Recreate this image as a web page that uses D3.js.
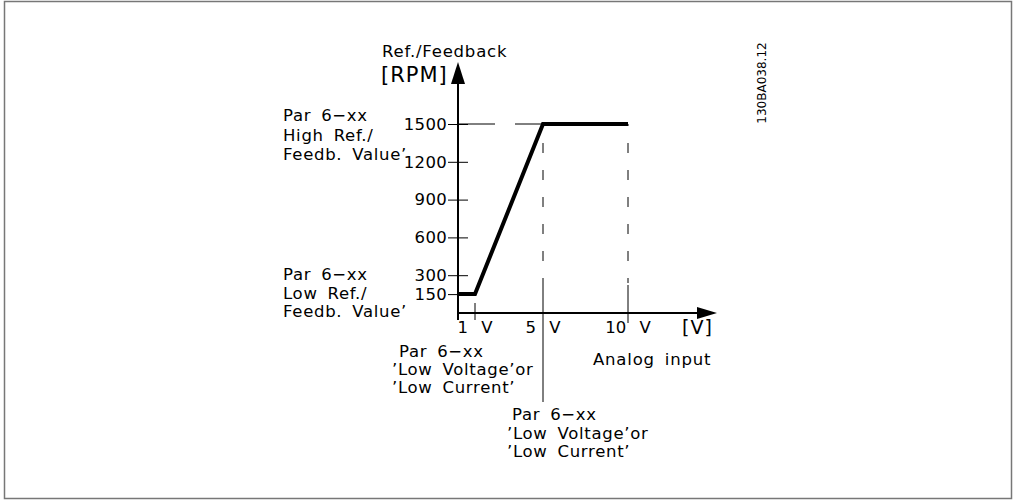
<!DOCTYPE html>
<html>
<head>
<meta charset="utf-8">
<script src="https://cdn.jsdelivr.net/npm/d3@7"></script>
<style>
  body { margin: 0; background: #fff; }
  text { font-family: "DejaVu Sans", sans-serif; fill: #000; }
</style>
</head>
<body>
<script>
// Data: analog input (V) vs reference/feedback (RPM)
const volts = [0, 1, 5, 10];
const rpm = [150, 150, 1500, 1500];
const yTicks = [150, 300, 600, 900, 1200, 1500];
const xTicks = [1, 5, 10];
const xTickLabels = ['1 V', '5 V', '10 V'];
const highLabel = ['Par 6\u2212xx', 'High Ref./', 'Feedb. Value\u2019'];
const lowLabel = ['Par 6\u2212xx', 'Low Ref./', 'Feedb. Value\u2019'];
const lowVLabel = ['Par 6\u2212xx', '\u2019Low Voltage\u2019or', '\u2019Low Current\u2019'];

const width = 1016, height = 501;

const svg = d3.select('body')
  .append('svg')
  .attr('width', width)
  .attr('height', height);

// outer frame
svg.append('rect')
  .attr('x', 4.5).attr('y', 1.5)
  .attr('width', 1007).attr('height', 497)
  .attr('fill', 'none')
  .attr('stroke', '#777')
  .attr('stroke-width', 1.5);

// Set Ranges
const x = d3.scaleLinear().domain([0, 10]).range([458, 628]);
const y = d3.scaleLinear().domain([0, 1500]).range([313, 124]);

// guide lines (dashed) from the 1500 point
svg.append('line')
  .attr('x1', x(0)).attr('x2', x(5))
  .attr('y1', y(1500)).attr('y2', y(1500))
  .attr('stroke', '#000').attr('stroke-width', 1)
  .attr('stroke-dasharray', '37,20');

[5, 10].forEach(function(v) {
  svg.append('line')
    .attr('x1', x(v)).attr('x2', x(v))
    .attr('y1', y(1500)).attr('y2', y(0) - 30)
    .attr('stroke', '#000').attr('stroke-width', 1)
    .attr('stroke-dasharray', '10,17')
    .attr('stroke-dashoffset', 8);
});
// solid parts of the guides near / below the axis
svg.append('line')
  .attr('x1', x(5)).attr('x2', x(5))
  .attr('y1', y(0) - 30).attr('y2', y(0) + 89)
  .attr('stroke', '#000').attr('stroke-width', 1);
svg.append('line')
  .attr('x1', x(10)).attr('x2', x(10))
  .attr('y1', y(0) - 28).attr('y2', y(0) + 10)
  .attr('stroke', '#000').attr('stroke-width', 1);
// tick at 1 V
svg.append('line')
  .attr('x1', x(1)).attr('x2', x(1))
  .attr('y1', y(0) - 10).attr('y2', y(0) + 7)
  .attr('stroke', '#000').attr('stroke-width', 1);

// Y axis ticks and labels
const yAxis = d3.axisLeft(y).tickValues(yTicks).tickFormat(d3.format('d'))
  .tickSize(10).tickPadding(1);
const gy = svg.append('g')
  .attr('transform', 'translate(' + x(0) + ',0)')
  .call(yAxis);
gy.select('.domain').remove();
gy.selectAll('.tick line').attr('x2', 10).attr('x1', -10).attr('stroke-width', 1);
gy.selectAll('.tick text')
  .attr('font-size', 16.5)
  .attr('font-family', '"DejaVu Sans", sans-serif')
  .attr('letter-spacing', 0.3);

// X tick labels
svg.selectAll('.xlab')
  .data(xTicks)
  .enter().append('text')
  .attr('class', 'xlab')
  .attr('x', function(d) { return x(d); })
  .attr('y', 333)
  .attr('text-anchor', 'middle')
  .attr('font-size', 16.5)
  .attr('word-spacing', 8)
  .text(function(d, i) { return xTickLabels[i]; });

// axes with arrows
svg.append('line')
  .attr('x1', x(0)).attr('x2', x(0))
  .attr('y1', y(0) + 7).attr('y2', 80)
  .attr('stroke', '#000').attr('stroke-width', 2);
svg.append('path')
  .attr('d', 'M' + x(0) + ',62 L' + (x(0) - 7) + ',84 L' + (x(0) + 7) + ',84 Z')
  .attr('fill', '#000');
svg.append('line')
  .attr('x1', x(0) - 1).attr('x2', 700)
  .attr('y1', y(0)).attr('y2', y(0))
  .attr('stroke', '#000').attr('stroke-width', 2);
svg.append('path')
  .attr('d', 'M717,' + y(0) + ' L697,' + (y(0) - 6) + ' L697,' + (y(0) + 6) + ' Z')
  .attr('fill', '#000');

// the data line
const valueline = d3.line()
  .x(function(d) { return x(d[0]); })
  .y(function(d) { return y(d[1]); });
svg.append('path')
  .attr('d', valueline(d3.zip(volts, rpm)))
  .attr('fill', 'none')
  .attr('stroke', '#000')
  .attr('stroke-width', 4)
  .attr('stroke-linejoin', 'miter');

// titles
svg.append('text').attr('x', 382).attr('y', 57)
  .attr('font-size', 16.5).attr('letter-spacing', 0.8)
  .text('Ref./Feedback');
svg.append('text').attr('x', 381).attr('y', 82)
  .attr('font-size', 21).attr('letter-spacing', 1)
  .text('[RPM]');
svg.append('text').attr('x', 682).attr('y', 334)
  .attr('font-size', 19).attr('letter-spacing', 1)
  .text('[V]');
svg.append('text').attr('x', 593).attr('y', 365)
  .attr('font-size', 16.5).attr('letter-spacing', 0.8).attr('word-spacing', 4)
  .text('Analog input');

// multi-line annotations
function block(lines, xs, y0, dy) {
  lines.forEach(function(t, i) {
    svg.append('text')
      .attr('x', xs[i]).attr('y', y0 + i * dy)
      .attr('font-size', 16.5)
      .attr('letter-spacing', 0.7)
      .attr('word-spacing', 4)
      .text(t);
  });
}
block(highLabel, [283, 283, 283], 121, 19.5);
block(lowLabel, [283, 283, 283], 280, 18.5);
block(lowVLabel, [399, 392, 392], 357, 18);
block(lowVLabel, [512, 507, 507], 420, 18.5);

// drawing number
svg.append('text')
  .attr('transform', 'translate(766,83) rotate(-90)')
  .attr('text-anchor', 'middle')
  .attr('font-size', 12)
  .attr('font-family', '"Liberation Sans", sans-serif')
  .text('130BA038.12');
</script>
</body>
</html>
